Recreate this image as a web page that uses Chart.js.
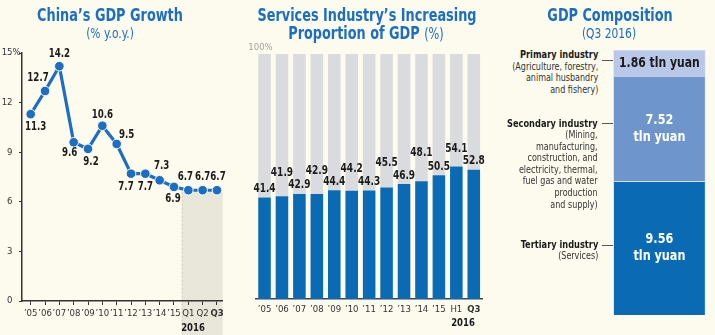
<!DOCTYPE html>
<html><head><meta charset="utf-8">
<script src="https://cdn.jsdelivr.net/npm/chart.js@4.4.1/dist/chart.umd.min.js"></script>
<style>
html,body{margin:0;padding:0;background:#fdfbee;}
body{width:715px;height:335px;position:relative;overflow:hidden;font-family:"DejaVu Sans Condensed","Liberation Sans Narrow",sans-serif;}
canvas{position:absolute;top:0;z-index:1;}
.c{position:absolute;z-index:2;white-space:nowrap;transform:translate(-50%,-50%) scaleX(0.84);text-align:center;}
.title{color:#1b6ec2;font-weight:bold;font-size:17px;}
.sub{color:#1b6ec2;font-size:13.5px;transform:translate(-50%,-50%) scaleX(0.88);}
.yr{font-weight:bold;font-size:10.5px;color:#1a1a1a;transform:translate(-50%,-50%) scaleX(0.9);}
.lbl{position:absolute;z-index:2;right:117px;text-align:right;white-space:nowrap;font-size:10.5px;line-height:11.6px;color:#333;transform:scaleX(0.85);transform-origin:right top;}
.lbl b{color:#1a1a1a;font-size:10.8px;}
.lead{position:absolute;z-index:2;left:602px;width:11px;height:1px;background:#555;}
</style></head>
<body>
<div class="c title" style="left:110px;top:15px;">China’s GDP Growth</div>
<div class="c sub" style="left:110px;top:33px;">(% y.o.y.)</div>
<div class="c title" style="left:367px;top:15px;">Services Industry’s Increasing</div>
<div class="c title" style="left:366px;top:33px;">Proportion of GDP <span style="font-weight:normal;font-size:15px">(%)</span></div>
<div class="c title" style="left:610px;top:15px;">GDP Composition</div>
<div class="c sub" style="left:609px;top:33px;">(Q3 2016)</div>
<div class="c yr" style="left:193px;top:327px;">2016</div>
<div class="c yr" style="left:463px;top:322px;">2016</div>

<div class="lbl" style="top:49px;"><b>Primary industry</b><br>(Agriculture, forestry,<br>animal husbandry<br>and fishery)</div>
<div class="lead" style="top:60px;"></div>
<div class="lbl" style="top:117.5px;"><b>Secondary industry</b><br>(Mining,<br>manufacturing,<br>construction, and<br>electricity, thermal,<br>fuel gas and water<br>production<br>and supply)</div>
<div class="lead" style="top:123px;"></div>
<div class="lbl" style="top:238.5px;"><b>Tertiary industry</b><br>(Services)</div>
<div class="lead" style="top:245px;"></div>

<canvas id="c1" width="240" height="335" style="left:0;width:240px;height:335px;"></canvas>
<canvas id="c2" width="250" height="335" style="left:240px;width:250px;height:335px;"></canvas>
<canvas id="c3" width="115" height="335" style="left:600px;width:115px;height:335px;"></canvas>

<script>
// ---------- data ----------
const gdpLabels = ["’05","’06","’07","’08","’09","’10","’11","’12","’13","’14","’15","Q1","Q2","Q3"];
const gdpGrowth = [11.3,12.7,14.2,9.6,9.2,10.6,9.5,7.7,7.7,7.3,6.9,6.7,6.7,6.7];
const gdpTicks = [0,3,6,9,12,15];
const gdpFirst2016 = 11;

const svcLabels = ["’05","’06","’07","’08","’09","’10","’11","’12","’13","’14","’15","H1","Q3"];
const svcShare = [41.4,41.9,42.9,42.9,44.4,44.2,44.3,45.5,46.9,48.1,50.5,54.1,52.8];
const svcMax = 100;

const compNames = ["Primary industry","Secondary industry","Tertiary industry"];
const compValues = [1.86,7.52,9.56];
const compUnit = "tln yuan";

// ---------- styles / label placement ----------
const FONT = '"DejaVu Sans Condensed","Liberation Sans Narrow",sans-serif';
const BLUE = '#1b6ec2';
const BAR_BLUE = '#0a6ab4';
const BG = '#fdfbee';
const gdpLabelOffsets = [[5,13],[-7,-13],[0,-12],[-4,11],[3,13],[0,-11],[10,-9],[-5,13],[0,13],[2,-14],[-1,12],[-3,-13],[0,-13],[1,-13]];
const svcLabelDy = [-8.5,-23,-8.5,-22.6,-8.5,-22,-8.5,-24.7,-8.5,-28,-8.5,-17,-8.5];
const compColors = ['#b9c8e8','#6e96cd','#0a6ab4'];
const compTextColors = ['#1a1a1a','#ffffff','#ffffff'];

Chart.defaults.font.family = FONT;
Chart.defaults.animation = false;

function squeezeText(ctx, text, x, y, sx){
  ctx.save();
  ctx.translate(x, y);
  ctx.scale(sx, 1);
  ctx.fillText(text, 0, 0);
  ctx.restore();
}

// ---------- chart 1 ----------
const shadePlugin = {
  id:'shade',
  beforeDraw(chart){
    const {ctx, scales:{x,y}, chartArea} = chart;
    const x0 = x.getPixelForValue(gdpFirst2016 - 0.46);
    const x1 = chartArea.right + 0.7;
    const y0 = y.getPixelForValue(gdpGrowth[gdpFirst2016]) + 1.5;
    ctx.save();
    ctx.fillStyle = '#e9e7d9';
    ctx.fillRect(x0, y0, x1-x0, chart.height - y0);
    ctx.strokeStyle = '#cfccbc';
    ctx.setLineDash([2,2]);
    ctx.lineWidth = 1;
    ctx.beginPath(); ctx.moveTo(x0+0.5,y0); ctx.lineTo(x0+0.5,chart.height); ctx.stroke();
    ctx.restore();
  }
};
const gdpLabelPlugin = {
  id:'gdpLabels',
  afterDatasetsDraw(chart){
    const {ctx, scales:{y}} = chart;
    const meta = chart.getDatasetMeta(0);
    ctx.save();
    ctx.font = 'bold 11.5px ' + FONT;
    ctx.fillStyle = '#1a1a1a';
    ctx.textAlign = 'center'; ctx.textBaseline = 'middle';
    meta.data.forEach((p,i)=>{
      const [dx,dy] = gdpLabelOffsets[i];
      squeezeText(ctx, gdpGrowth[i].toFixed(1), p.x+dx, p.y+dy, 0.84);
    });
    // percent sign after top tick
    const t = gdpTicks[gdpTicks.length-1];
    ctx.font = '9.5px ' + FONT;
    ctx.fillStyle = '#333';
    ctx.textAlign = 'left';
    ctx.fillText('%', 12.6, y.getPixelForValue(t));
    ctx.restore();
  }
};
new Chart(document.getElementById('c1'), {
  type:'line',
  data:{datasets:[{
    data: gdpGrowth.map((v,i)=>({x:i,y:v})),
    borderColor: BLUE, borderWidth: 3.2,
    pointRadius: 4.8, pointBackgroundColor: BLUE, pointBorderColor: BG, pointBorderWidth: 1,
    tension: 0, clip: false
  }]},
  options:{
    responsive:false, animation:false,
    layout:{padding:{top:53,right:18,left:0,bottom:0}},
    plugins:{legend:{display:false},tooltip:{enabled:false}},
    scales:{
      x:{type:'linear', min:-0.607, max:13.35,
        afterBuildTicks:s=>{s.ticks = gdpLabels.map((l,i)=>({value:i}));},
        afterFit:s=>{s.height = 34;},
        ticks:{callback:(v)=>gdpLabels[v], autoSkip:false, maxRotation:0, padding:3, color:'#333',
          font:(c)=>({size:9.5, weight: (c.tick && c.tick.value===gdpLabels.length-1)?'bold':'normal'})},
        grid:{drawOnChartArea:false, tickLength:4, color:'#333', lineWidth:1},
        border:{color:'#333', width:1.5}
      },
      y:{type:'linear', min:0, max:15,
        afterBuildTicks:s=>{s.ticks = gdpTicks.map(v=>({value:v}));},
        afterFit:s=>{s.width = 22;},
        ticks:{callback:v=>String(v), padding:6.5, color:'#333', font:{size:9.5}},
        grid:{drawOnChartArea:false, tickLength:3, color:'#333', lineWidth:1},
        border:{color:'#333', width:1.5}
      }
    }
  },
  plugins:[shadePlugin, gdpLabelPlugin]
});

// ---------- chart 2 ----------
const svcLabelPlugin = {
  id:'svcLabels',
  afterDatasetsDraw(chart){
    const {ctx, scales:{y}, chartArea} = chart;
    const meta = chart.getDatasetMeta(0);
    ctx.save();
    ctx.font = 'bold 11.5px ' + FONT;
    ctx.fillStyle = '#1a1a1a';
    ctx.textAlign = 'center'; ctx.textBaseline = 'middle';
    meta.data.forEach((b,i)=>{
      squeezeText(ctx, svcShare[i].toFixed(1), b.x, b.y + svcLabelDy[i], 0.87);
    });
    ctx.font = '9.5px ' + FONT;
    ctx.fillStyle = '#a3a39c';
    ctx.textAlign = 'left';
    ctx.fillText(svcMax + '%', chartArea.left - 7.5, y.getPixelForValue(svcMax) - 6);
    ctx.restore();
  }
};
new Chart(document.getElementById('c2'), {
  type:'bar',
  data:{labels: svcLabels, datasets:[
    {data: svcShare, backgroundColor: BAR_BLUE, barPercentage:0.72, categoryPercentage:1},
    {data: svcShare.map(v=>svcMax - v), backgroundColor:'#d9dbde', barPercentage:0.72, categoryPercentage:1}
  ]},
  options:{
    responsive:false, animation:false,
    layout:{padding:{top:54,right:7.5,left:15.8,bottom:0}},
    plugins:{legend:{display:false},tooltip:{enabled:false}},
    scales:{
      x:{stacked:true, afterFit:s=>{s.height = 36;},
        ticks:{autoSkip:false, maxRotation:0, padding:5, color:'#333',
          font:(c)=>({size:9.5, weight:(c.index===svcLabels.length-1)?'bold':'normal'})},
        grid:{drawOnChartArea:false, drawTicks:false},
        border:{color:'#444', width:1.5}
      },
      y:{stacked:true, display:false, min:0, max:svcMax}
    }
  },
  plugins:[svcLabelPlugin]
});

// ---------- chart 3 ----------
const compLabelPlugin = {
  id:'compLabels',
  afterDatasetsDraw(chart){
    const {ctx} = chart;
    ctx.save();
    ctx.textAlign='center'; ctx.textBaseline='middle';
    compValues.forEach((v,i)=>{
      const dsIndex = compValues.length-1-i;
      const el = chart.getDatasetMeta(dsIndex).data[0];
      const cy = (el.y + el.base)/2;
      ctx.fillStyle = compTextColors[i];
      if (i===0){
        ctx.font = 'bold 14px ' + FONT;
        squeezeText(ctx, v.toFixed(2)+' '+compUnit, el.x, cy, 0.86);
      } else {
        ctx.font = 'bold 14.5px ' + FONT;
        squeezeText(ctx, v.toFixed(2), el.x, cy-8.5, 0.86);
        squeezeText(ctx, compUnit, el.x, cy+8.5, 0.86);
      }
    });
    ctx.restore();
  }
};
new Chart(document.getElementById('c3'), {
  type:'bar',
  data:{labels:['Q3 2016'], datasets: compValues.map((v,i)=>({
    label: compNames[i], data:[v], backgroundColor: compColors[i],
    borderColor:'#d4def0', borderWidth:1, barPercentage:1, categoryPercentage:1
  })).reverse()},
  options:{
    responsive:false, animation:false,
    layout:{padding:{top:50,right:9.5,left:13.3,bottom:20}},
    plugins:{legend:{display:false},tooltip:{enabled:false}},
    scales:{
      x:{stacked:true, display:false},
      y:{stacked:true, display:false, min:0, max: compValues.reduce((a,b)=>a+b,0)}
    }
  },
  plugins:[compLabelPlugin]
});
</script>
</body></html>
